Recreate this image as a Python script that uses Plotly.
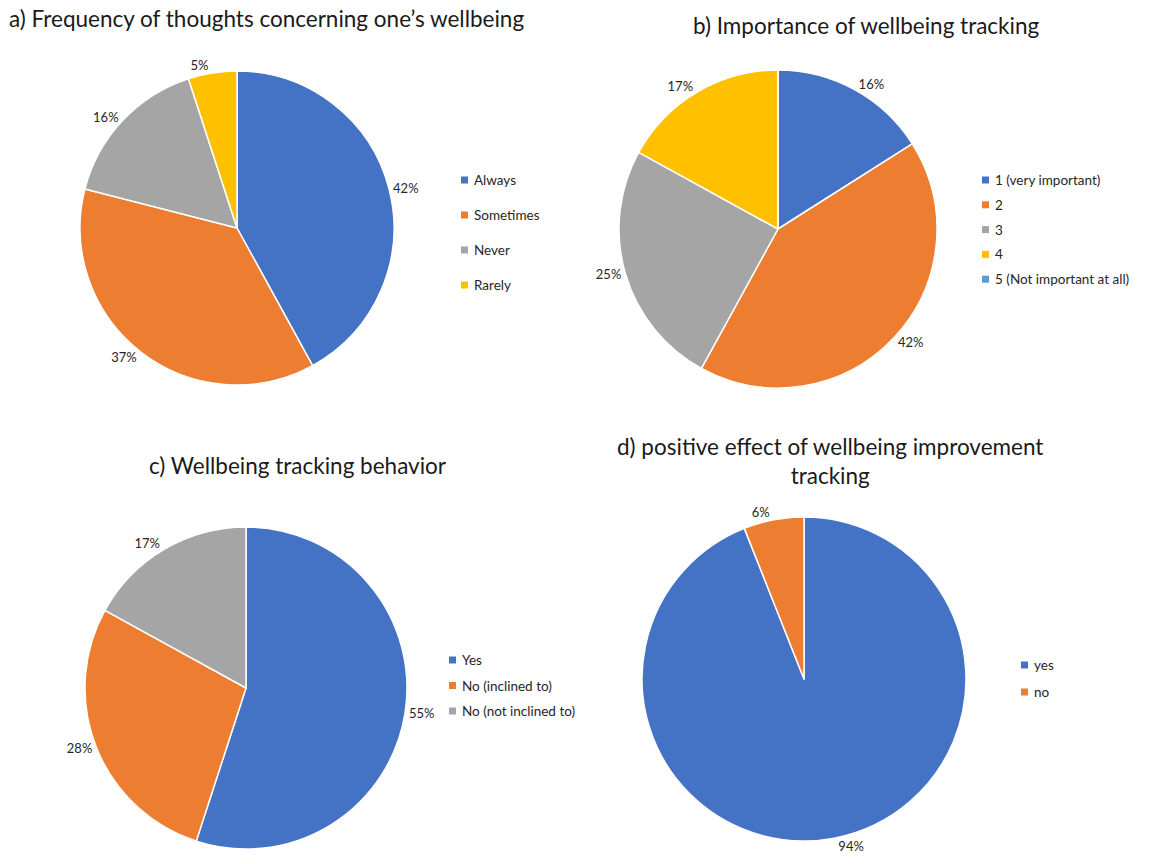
import plotly.graph_objects as go

W, H = 1157, 864

# Survey answers (percent of respondents)
freq_labels = ["Always", "Sometimes", "Never", "Rarely"]
freq_values = [42, 37, 16, 5]

importance_labels = ["1 (very important)", "2", "3", "4", "5 (Not important at all)"]
importance_values = [16, 42, 25, 17, 0]

behavior_labels = ["Yes", "No (inclined to)", "No (not inclined to)"]
behavior_values = [55, 28, 17]

effect_labels = ["yes", "no"]
effect_values = [94, 6]

palette = ["#4472C4", "#ED7D31", "#A5A5A5", "#FFC000", "#5B9BD5"]
TEXT = "#262626"
FONT = "Lato"


def px_x(x):
    return x / W


def px_y(y):
    return 1 - y / H


def pie(labels, values, cx, cy, r):
    return go.Pie(
        labels=labels,
        values=values,
        text=[f"{v}%" if v else "" for v in values],
        textinfo="text",
        textposition="outside",
        textfont=dict(family=FONT, size=13, color=TEXT),
        marker=dict(colors=palette[: len(values)], line=dict(color="white", width=1.5)),
        sort=False,
        direction="clockwise",
        rotation=0,
        showlegend=False,
        domain=dict(x=[px_x(cx - r), px_x(cx + r)], y=[px_y(cy + r), px_y(cy - r)]),
    )


fig = go.Figure()
fig.add_trace(pie(freq_labels, freq_values, 237, 228, 157))
fig.add_trace(pie(importance_labels, importance_values, 778, 229, 159))
fig.add_trace(pie(behavior_labels, behavior_values, 246, 688, 161))
fig.add_trace(pie(effect_labels, effect_values, 804, 679, 162))

annotations = []
shapes = []


def title(text, x, y, anchor):
    annotations.append(dict(
        text=text, x=px_x(x), y=px_y(y), xref="paper", yref="paper",
        xanchor=anchor, yanchor="middle", showarrow=False, align="center",
        font=dict(family=FONT, size=22.5, color="#1a1a1a"),
    ))


def legend(labels, x, y0, step):
    for i, lab in enumerate(labels):
        y = y0 + i * step
        shapes.append(dict(
            type="rect", xref="paper", yref="paper",
            x0=px_x(x), x1=px_x(x + 7), y0=px_y(y + 3.5), y1=px_y(y - 3.5),
            fillcolor=palette[i], line=dict(width=0),
        ))
        annotations.append(dict(
            text=lab, x=px_x(x + 11), y=px_y(y), xref="paper", yref="paper",
            xanchor="left", yanchor="middle", showarrow=False,
            font=dict(family=FONT, size=13.5, color=TEXT),
        ))


title("a) Frequency of thoughts concerning one’s wellbeing", 7, 19, "left")
title("b) Importance of wellbeing tracking", 866, 25, "center")
title("c) Wellbeing tracking behavior", 298, 465, "center")
title("d) positive effect of wellbeing improvement<br>tracking", 830, 461, "center")

legend(freq_labels, 461, 180, 35)
legend(importance_labels, 982, 180, 24.8)
legend(behavior_labels, 449, 660, 25.5)
legend(effect_labels, 1021, 665, 27)

fig.update_layout(
    width=W, height=H,
    margin=dict(l=0, r=0, t=0, b=0),
    paper_bgcolor="white", plot_bgcolor="white",
    annotations=annotations, shapes=shapes,
)

fig.write_html("out.html")
